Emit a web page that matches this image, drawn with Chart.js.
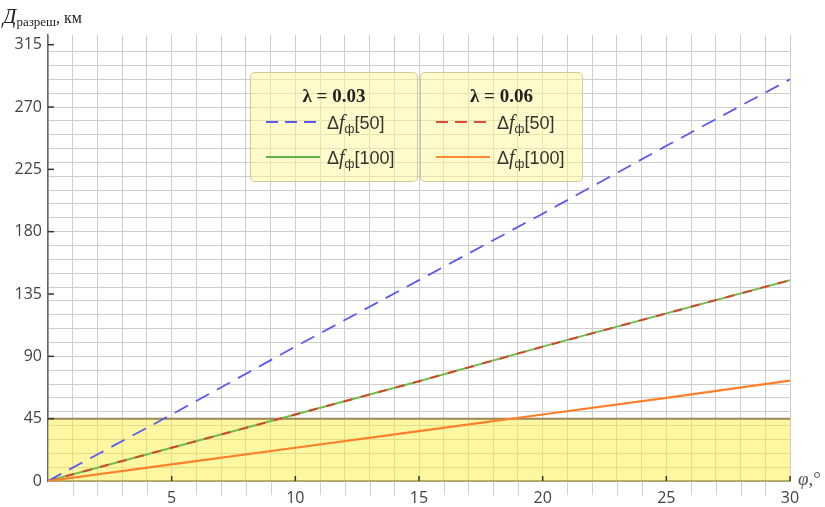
<!DOCTYPE html>
<html>
<head>
<meta charset="utf-8">
<script src="https://cdn.jsdelivr.net/npm/chart.js@4.4.0/dist/chart.umd.min.js"></script>
<style>
    html, body { margin: 0; padding: 0; background: #fff; }
    #wrap { position: relative; width: 825px; height: 507px; overflow: hidden; }
    #chart { position: absolute; left: 0; top: 0; }
    .ytitle { position: absolute; left: 3px; top: 4px; font-family: "Liberation Serif", serif; color: #222; white-space: nowrap; }
    .ytitle .d { font-style: italic; font-size: 21px; }
    .ytitle sub { font-size: 13px; vertical-align: -3px; }
    .ytitle .km { font-size: 16px; }
    .xtitle { position: absolute; left: 798px; top: 468px; font-family: "Liberation Serif", serif; font-size: 19px; color: #555; white-space: nowrap; }
    .xtitle i { font-style: italic; }
    .lgbox { position: absolute; top: 72px; height: 110px; background: rgba(255, 247, 150, 0.5); border: 1px solid rgba(200, 190, 140, 0.8); border-radius: 5px; box-sizing: border-box; }
    .lgtitle { position: absolute; top: 12px; width: 100%; text-align: center; font-family: "Liberation Serif", serif; font-weight: bold; font-size: 19px; color: #222; }
    .lgrow { position: absolute; left: 14px; height: 24px; white-space: nowrap; }
    .lgrow svg { position: absolute; left: 0; top: 6px; }
    .lgrow .t { position: absolute; left: 62px; top: 0; font-family: "Liberation Sans", sans-serif; font-size: 18px; color: #333; }
    .lgrow .t i { font-family: "Liberation Serif", serif; font-style: italic; font-size: 20px; }
    .lgrow .t sub { font-size: 12px; vertical-align: -4px; }
</style>
</head>
<body>
<div id="wrap">
    <canvas id="chart" width="825" height="507"></canvas>

    <div class="ytitle"><span class="d">Д</span><sub>разреш</sub><span class="km">, км</span></div>
    <div class="xtitle"><i>φ</i>,°</div>

    <div class="lgbox" style="left:250px; width:168px;">
        <div class="lgtitle">λ = 0.03</div>
        <div class="lgrow" style="top:38px;">
            <svg width="56" height="10"><line x1="1" y1="5" x2="55" y2="5" stroke="#5a5af0" stroke-width="2" stroke-dasharray="12 7"/></svg>
            <span class="t">Δ<i>f</i><sub>ф</sub>[50]</span>
        </div>
        <div class="lgrow" style="top:73px;">
            <svg width="56" height="10"><line x1="1" y1="5" x2="55" y2="5" stroke="#5fb548" stroke-width="2"/></svg>
            <span class="t">Δ<i>f</i><sub>ф</sub>[100]</span>
        </div>
    </div>
    <div class="lgbox" style="left:420px; width:163px;">
        <div class="lgtitle">λ = 0.06</div>
        <div class="lgrow" style="top:38px;">
            <svg width="56" height="10"><line x1="1" y1="5" x2="55" y2="5" stroke="#e04a3a" stroke-width="2" stroke-dasharray="12 7"/></svg>
            <span class="t">Δ<i>f</i><sub>ф</sub>[50]</span>
        </div>
        <div class="lgrow" style="top:73px;">
            <svg width="56" height="10"><line x1="1" y1="5" x2="55" y2="5" stroke="#ff8a30" stroke-width="2"/></svg>
            <span class="t">Δ<i>f</i><sub>ф</sub>[100]</span>
        </div>
    </div>
</div>

<script>
// ===== Data =====
const phi = [0, 5, 10, 15, 20, 25, 30];
const lambda003_f50 = [0, 48, 97, 145, 193, 242, 290];
const lambda003_f100 = [0, 24, 48, 72, 97, 121, 145];
const lambda006_f50 = [0, 24, 48, 72, 97, 121, 145];
const lambda006_f100 = [0, 12, 24, 36, 48, 60, 72.5];
const bandX = [0, 30];
const bandY = [45, 45];
const xTicks = [5, 10, 15, 20, 25, 30];
const yTicks = [0, 45, 90, 135, 180, 225, 270, 315];

const toPoints = (xs, ys) => xs.map((x, i) => ({ x: x, y: ys[i] }));

// ===== Tick marks + grid stubs below the axis =====
const tickMarks = {
    id: 'tickMarks',
    afterDraw(chart) {
        const ctx = chart.ctx;
        const xs = chart.scales.x, ys = chart.scales.y;
        const a = chart.chartArea;
        ctx.save();
        // grid stubs under x axis
        ctx.strokeStyle = '#cfcfcf';
        ctx.lineWidth = 1;
        for (let v = 1; v < 30; v++) {
            if (v % 5 === 0) continue;
            const px = Math.round(xs.getPixelForValue(v)) + 0.5;
            ctx.beginPath();
            ctx.moveTo(px, a.bottom + 1);
            ctx.lineTo(px, a.bottom + 14);
            ctx.stroke();
        }
        // major ticks
        ctx.strokeStyle = '#333';
        ctx.lineWidth = 1.5;
        xTicks.forEach(v => {
            const px = xs.getPixelForValue(v);
            ctx.beginPath();
            ctx.moveTo(px, a.bottom);
            ctx.lineTo(px, a.bottom - 5);
            ctx.stroke();
        });
        yTicks.forEach(v => {
            if (v === 0) return;
            const py = ys.getPixelForValue(v);
            ctx.beginPath();
            ctx.moveTo(a.left, py);
            ctx.lineTo(a.left + 6, py);
            ctx.stroke();
        });
        ctx.restore();
    }
};

const ctx = document.getElementById('chart').getContext('2d');
new Chart(ctx, {
    type: 'line',
    data: {
        datasets: [
            {
                label: 'λ=0.06 Δfф[100]',
                data: toPoints(phi, lambda006_f100),
                borderColor: '#ff7f2a',
                borderWidth: 2.2,
                pointRadius: 0,
                order: 1
            },
            {
                label: 'λ=0.03 Δfф[50]',
                data: toPoints(phi, lambda003_f50),
                borderColor: '#5a5af0',
                borderWidth: 1.8,
                borderDash: [15, 9],
                pointRadius: 0,
                order: 2
            },
            {
                label: 'λ=0.06 Δfф[50]',
                data: toPoints(phi, lambda006_f50),
                borderColor: '#d8452f',
                borderWidth: 2,
                borderDash: [9, 9],
                pointRadius: 0,
                order: 3
            },
            {
                label: 'λ=0.03 Δfф[100]',
                data: toPoints(phi, lambda003_f100),
                borderColor: '#6cc04a',
                borderWidth: 2,
                pointRadius: 0,
                order: 4
            },
            {
                label: 'band',
                data: toPoints(bandX, bandY),
                borderColor: '#9b8755',
                borderWidth: 2,
                backgroundColor: 'rgba(250, 238, 60, 0.48)',
                fill: 'origin',
                pointRadius: 0,
                order: 5
            }
        ]
    },
    options: {
        responsive: false,
        devicePixelRatio: 1,
        animation: false,
        layout: { padding: { left: 0, top: 35, right: 35, bottom: 0 } },
        plugins: {
            legend: { display: false },
            tooltip: { enabled: false }
        },
        scales: {
            x: {
                type: 'linear',
                min: 0,
                max: 30,
                afterFit: (scale) => { scale.height = 26; },
                border: { color: '#8a7a50', width: 1.5 },
                grid: { color: '#cdcdcd', lineWidth: 1, drawTicks: false },
                ticks: {
                    stepSize: 1,
                    autoSkip: false,
                    maxRotation: 0,
                    padding: 8,
                    color: '#444',
                    font: { family: 'Open Sans', size: 16 },
                    callback: (v) => (v % 5 === 0 && v !== 0) ? String(v) : ''
                }
            },
            y: {
                type: 'linear',
                min: 0,
                max: 322,
                afterFit: (scale) => { scale.width = 48; },
                border: { color: '#666', width: 1.5 },
                grid: {
                    drawTicks: false,
                    lineWidth: 1,
                    color: (c) => (c.tick && c.tick.value % 10 === 0) ? '#cdcdcd' : 'rgba(0,0,0,0)'
                },
                ticks: {
                    stepSize: 5,
                    autoSkip: false,
                    padding: 6,
                    color: '#444',
                    font: { family: 'Open Sans', size: 16 },
                    callback: (v) => yTicks.includes(v) ? String(v) : ''
                }
            }
        }
    },
    plugins: [tickMarks]
});
</script>
</body>
</html>
